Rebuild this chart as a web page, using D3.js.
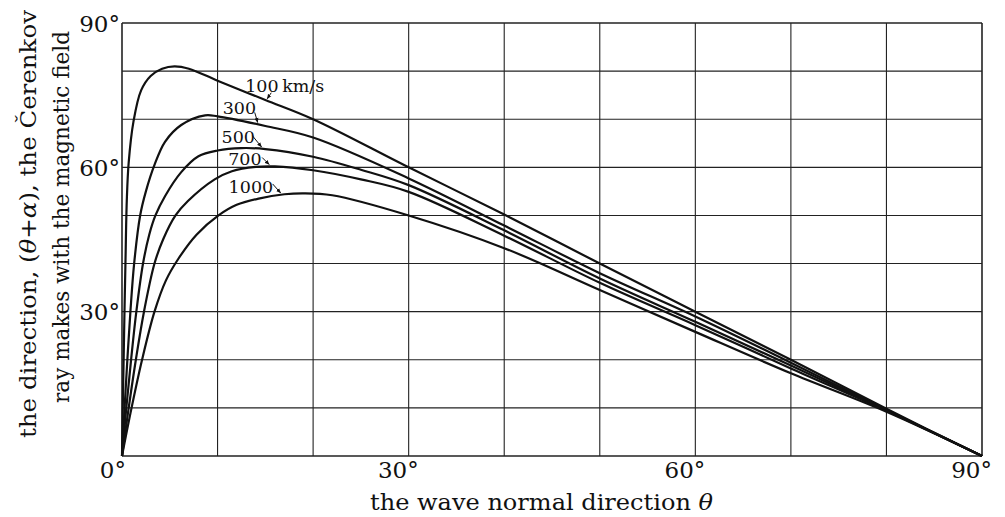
<!DOCTYPE html>
<html>
<head>
<meta charset="utf-8">
<script src="https://cdn.jsdelivr.net/npm/d3@7"></script>
<style>
  body { margin: 0; background: #fff; }
  text { font-family: "DejaVu Serif", serif; fill: #111; }
</style>
</head>
<body>
<div id="chart"></div>
<script>
// curves: theta (deg) vs direction of the ray (deg)
var theta100 = [0, 0.08, 0.17, 0.26, 0.36, 0.5, 0.7, 1.2, 2, 3, 4.2, 5.5, 7, 10, 15, 20, 30, 40, 50, 60, 70, 80, 90];
var dir100   = [0, 10, 20, 30, 40, 53, 61, 69.5, 76, 79, 80.5, 81, 80.5, 78, 74, 70, 60, 50.2, 40, 30, 20, 9.8, 0];

var theta300 = [0, 0.27, 0.56, 0.88, 1.27, 1.9, 2.5, 3.4, 4.5, 6.2, 8.7, 10, 15, 20, 30, 40, 50, 60, 70, 80, 90];
var dir300   = [0, 10, 20, 30, 40, 50, 55, 60.5, 65.3, 68.8, 70.8, 70.6, 68.6, 66.2, 57.7, 47.9, 38, 29, 19.4, 9.6, 0];

var theta500 = [0, 0.45, 0.95, 1.5, 2.2, 2.85, 3.5, 4.5, 6.2, 8, 10, 12.5, 15, 20, 25, 30, 40, 50, 60, 70, 80, 90];
var dir500   = [0, 10, 20, 30, 40, 46, 50, 54, 59, 62.3, 63.5, 64, 63.8, 62.2, 59.5, 56.3, 46.9, 36.9, 27.9, 18.8, 9.5, 0];

var theta700 = [0, 0.7, 1.45, 2.3, 3.4, 4.3, 5.6, 6.9, 9.7, 11.5, 14, 16, 20, 25, 30, 40, 50, 60, 70, 80, 90];
var dir700   = [0, 10, 20, 30, 40, 45, 50, 53, 57.5, 59.2, 60.1, 60.2, 59.4, 57.5, 54.9, 45.8, 36, 27.2, 18.2, 9.4, 0];

var theta1000 = [0, 1.0, 2.1, 3.4, 4.6, 5.9, 7.8, 10.1, 12, 14.3, 17, 19, 22, 30, 40, 50, 60, 70, 80, 90];
var dir1000   = [0, 10, 20, 30, 36.5, 41, 46, 50, 52.2, 53.5, 54.4, 54.6, 54.2, 50, 43.2, 34.5, 25.8, 17.2, 9.2, 0];

var speedLabels = ["100\u2009km/s", "300", "500", "700", "1000"];
var arrowTheta  = [15.2, 14.2, 14.6, 15.4, 16.6];   // where each label's arrow touches its curve

var gridValues = [0, 10, 20, 30, 40, 50, 60, 70, 80, 90];
var tickValues = [0, 30, 60, 90];

var W = 1005, H = 517;
var margin = { top: 23, right: 23, bottom: 61, left: 122 },
    width = W - margin.left - margin.right,
    height = H - margin.top - margin.bottom;

var svg = d3.select("#chart").append("svg")
    .attr("width", W)
    .attr("height", H);

svg.append("defs").append("marker")
    .attr("id", "head")
    .attr("viewBox", "0 0 10 10")
    .attr("refX", 9).attr("refY", 5)
    .attr("markerWidth", 5).attr("markerHeight", 5)
    .attr("orient", "auto")
  .append("path")
    .attr("d", "M0,1 L10,5 L0,9 z")
    .style("fill", "#111");

var g = svg.append("g")
    .attr("transform", "translate(" + margin.left + "," + margin.top + ")");

var x = d3.scaleLinear().domain([0, 90]).range([0, width]);
var y = d3.scaleLinear().domain([0, 90]).range([height, 0]);

// grid
g.selectAll(".vgrid")
    .data(gridValues)
    .enter().append("line")
    .attr("x1", function(d) { return x(d); })
    .attr("x2", function(d) { return x(d); })
    .attr("y1", 0).attr("y2", height)
    .style("stroke", "#222")
    .style("stroke-width", function(d) { return (d == 0 || d == 90) ? 1.6 : 1.1; });

g.selectAll(".hgrid")
    .data(gridValues)
    .enter().append("line")
    .attr("y1", function(d) { return y(d); })
    .attr("y2", function(d) { return y(d); })
    .attr("x1", 0).attr("x2", width)
    .style("stroke", "#222")
    .style("stroke-width", function(d) { return (d == 0 || d == 90) ? 1.6 : 1.1; });

// tick labels
g.selectAll(".ylab")
    .data(tickValues.filter(function(d) { return d > 0; }))
    .enter().append("text")
    .attr("x", -2)
    .attr("y", function(d) { return y(d) + 8.5; })
    .attr("text-anchor", "end")
    .style("font-size", "23px")
    .text(function(d) { return d + "\u00b0"; });

g.selectAll(".xlab")
    .data(tickValues)
    .enter().append("text")
    .attr("x", function(d) { return d == 0 ? x(d) + 4 : x(d) + 10; })
    .attr("y", height + 22)
    .attr("text-anchor", "end")
    .style("font-size", "23px")
    .text(function(d) { return d + "\u00b0"; });

// axis titles
svg.append("text")
    .attr("x", 370).attr("y", 510)
    .attr("textLength", 343)
    .attr("lengthAdjust", "spacingAndGlyphs")
    .style("font-size", "23px")
    .text("the wave normal direction ")
  .append("tspan")
    .style("font-style", "italic")
    .text("\u03b8");

var t1 = svg.append("text")
    .attr("transform", "translate(36,224) rotate(-90)")
    .attr("text-anchor", "middle")
    .attr("textLength", 428)
    .attr("lengthAdjust", "spacingAndGlyphs")
    .style("font-size", "23px");
t1.append("tspan").text("the direction, (");
t1.append("tspan").style("font-style", "italic").text("\u03b8");
t1.append("tspan").text("+");
t1.append("tspan").style("font-style", "italic").text("\u03b1");
t1.append("tspan").text("), the \u010cerenkov");

svg.append("text")
    .attr("transform", "translate(69,217) rotate(-90)")
    .attr("text-anchor", "middle")
    .attr("textLength", 372)
    .attr("lengthAdjust", "spacingAndGlyphs")
    .style("font-size", "23px")
    .text("ray makes with the magnetic field");

// curves
var series = [
  { t: theta100, v: dir100 },
  { t: theta300, v: dir300 },
  { t: theta500, v: dir500 },
  { t: theta700, v: dir700 },
  { t: theta1000, v: dir1000 }
];

var line = d3.line()
    .x(function(d) { return x(d[0]); })
    .y(function(d) { return y(d[1]); })
    .curve(d3.curveCatmullRom.alpha(0.5));

g.selectAll(".curve")
    .data(series)
    .enter().append("path")
    .attr("d", function(s) { return line(d3.zip(s.t, s.v)); })
    .style("fill", "none")
    .style("stroke", "#111")
    .style("stroke-width", 2.2)
    .style("stroke-linejoin", "round");

// labels with little arrows
var textOff  = [[-22, -8], [-35, -9], [-40, -5], [-41, -1], [-52, -1]];
var arrowOff = [[4, -7], [-3, -11], [-9, -12], [-7, -8], [-8, -10]];

function valueAt(s, t) {
  return d3.scaleLinear().domain(s.t).range(s.v)(t);
}

series.forEach(function(s, i) {
  var px = x(arrowTheta[i]), py = y(valueAt(s, arrowTheta[i])) - 1;
  g.append("text")
    .attr("x", px + textOff[i][0])
    .attr("y", py + textOff[i][1])
    .style("font-size", "17.5px")
    .text(speedLabels[i]);
  g.append("line")
    .attr("x1", px + arrowOff[i][0]).attr("y1", py + arrowOff[i][1])
    .attr("x2", px).attr("y2", py - 1)
    .style("stroke", "#111")
    .style("stroke-width", 1)
    .attr("marker-end", "url(#head)");
});
</script>
</body>
</html>
